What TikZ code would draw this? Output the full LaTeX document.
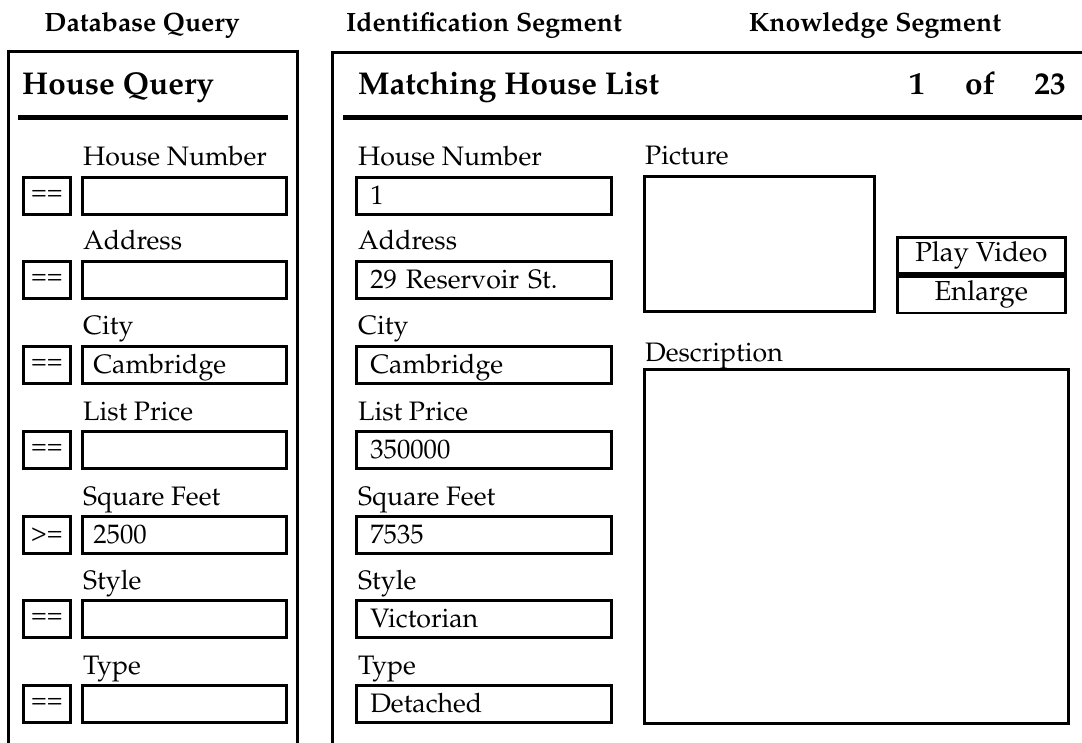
\documentclass[tikz,border=0pt]{standalone}
\usepackage[T1]{fontenc}
\usepackage{mathpazo}
\newcommand\fsz[1]{\fontsize{#1}{#1}\selectfont}
\tikzset{
  frame/.style={line width=3pt},
  titlerule/.style={line width=5pt},
  head/.style={anchor=base, inner sep=0pt, font=\fsz{26.5}\bfseries},
  paneltitle/.style={anchor=base west, inner sep=0pt, font=\fsz{31.5}\bfseries},
  fieldlabel/.style={anchor=base west, inner sep=0pt, font=\fsz{26.7}},
  fieldbox/.style={draw, line width=2.6pt, anchor=north west, minimum height=37pt,
    text height=22pt, text depth=5pt, inner ysep=5pt, align=left, font=\fsz{26.7}},
  querybox/.style={fieldbox, inner xsep=11pt, text width=182pt},
  listbox/.style={fieldbox, inner xsep=14pt, text width=227pt},
  opbox/.style={draw, line width=2.6pt, anchor=north west, minimum width=47pt,
    minimum height=37pt, inner sep=0pt, font=\fsz{26}},
  btn/.style={draw, line width=2.6pt, minimum width=168pt, minimum height=36.5pt,
    inner sep=0pt, font=\fsz{27.5}},
  pane/.style={draw, line width=2.8pt, anchor=north west, inner sep=0pt}
}
\begin{document}
\begin{tikzpicture}[x=1pt, y=-1pt]
  \useasboundingbox (0,0) rectangle (1082,743);

  % segment headings
  \node[head] (hdb) at (142,32) {Database Query};
  \node[head] (hid) at (484,32) {Identification Segment};
  \node[head] (hkn) at (875,32) {Knowledge Segment};

  % query panel frame
  \draw[frame] (8,745) -- (8,52) -- (297,52) -- (297,745);
  \node[paneltitle] (qt) at (22,95) {House Query};
  \draw[titlerule] (18,118) -- (288,118);

  % result panel frame
  \draw[frame] (332,745) -- (332,53) -- (1084,53);
  \node[paneltitle] (mt) at (358,95) {Matching House List};
  \node[paneltitle, anchor=base] (cnt1) at (917,95) {1};
  \node[paneltitle, anchor=base] (cnt2) at (980,95) {of};
  \node[paneltitle, anchor=base] (cnt3) at (1050,95) {23};
  \draw[titlerule] (343,118) -- (1082,118);

  % field rows: query side and result side
  \foreach \i/\y/\lab/\op/\qv/\mv in {
      1/176/House Number/==/{}/1,
      2/260/Address/==/{}/29 Reservoir St.,
      3/345/City/==/Cambridge/Cambridge,
      4/430/List Price/==/{}/350000,
      5/515/Square Feet/>=/2500/7535,
      6/599/Style/==/{}/Victorian,
      7/684/Type/==/{}/Detached} {
    \node[fieldlabel] (ql\i) at (83,\y-10) {\lab};
    \node[opbox] (op\i) at (22,\y) {\op};
    \node[querybox] (q\i) at (81,\y) {\qv};
    \node[fieldlabel] (ml\i) at (358,\y-10) {\lab};
    \node[listbox] (m\i) at (355,\y) {\mv};
  }

  % knowledge segment
  \node[fieldlabel] (picl) at (645,165) {Picture};
  \node[pane, minimum width=230pt, minimum height=135pt] (pic) at (643,175) {};
  \node[btn, anchor=north west] (play) at (896,236) {Play Video};
  \node[btn, anchor=north] (enl) at (play.south) {Enlarge};
  \node[fieldlabel] (descl) at (645,362) {Description};
  \node[pane, minimum width=424pt, minimum height=354pt] (desc) at (643,368) {};
\end{tikzpicture}
\end{document}
